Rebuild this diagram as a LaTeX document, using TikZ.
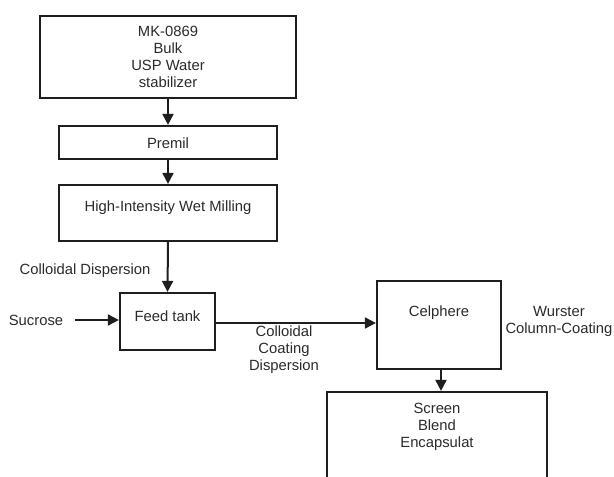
\documentclass[tikz,border=0pt]{standalone}
\usepackage{fontspec}
\setmainfont{Liberation Sans}
\usetikzlibrary{arrows.meta}
\definecolor{ink}{HTML}{1E1E1E}
\definecolor{txtc}{HTML}{2A2A2A}
\tikzset{
  box/.style={draw=ink, line width=2.2pt, rectangle, inner sep=0pt},
  txt/.style={text=txtc, font=\fontsize{14.8}{17}\selectfont, align=center, inner sep=0pt},
  arr/.style={draw=ink, line width=2pt, -{Triangle[length=11pt,width=11pt]}},
}
\begin{document}
\begin{tikzpicture}[x=1pt,y=-1pt]
\useasboundingbox (0,0) rectangle (614,477);
% boxes
\node[box, minimum width=256pt, minimum height=82pt] (mk) at (168,57) {};
\node[txt] (mkt) at (168,57) {MK-0869\\Bulk\\USP Water\\stabilizer};
\node[box, minimum width=218pt, minimum height=33pt] (premil) at (168,142.5) {};
\node[txt] (premilt) at (168,143) {Premil};
\node[box, minimum width=218pt, minimum height=56pt] (hiwm) at (168,213) {};
\node[txt] (hiwmt) at (168,208) {High-Intensity Wet Milling};
\node[box, minimum width=95pt, minimum height=57pt] (feed) at (167.5,321.5) {};
\node[txt] (feedt) at (167.5,316) {Feed tank};
\node[box, minimum width=124pt, minimum height=88pt] (cel) at (439,325) {};
\node[txt] (celt) at (439,313) {Celphere};
\node[box, minimum width=220pt, minimum height=120pt] (scr) at (437,452) {};
\node[txt] (scrt) at (437,427) {Screen\\Blend\\Encapsulat};
% labels
\node[txt] (suc) at (36,320) {Sucrose};
\node[txt] (cd) at (85,271) {Colloidal Dispersion};
\node[txt] (ccd) at (284,350) {Colloidal\\Coating\\Dispersion};
\node[txt] (wur) at (559,321) {Wurster\\Column-Coating};
% connectors
\draw[arr] (mk.south) -- (premil.north);
\draw[arr] (premil.south) -- (hiwm.north);
\draw[arr] (hiwm.south) -- (feed.north);
\draw[arr] ([xshift=12pt]suc.east) -- (suc.east -| feed.west);
\draw[arr] ([yshift=-1.5pt]feed.east) -- ([yshift=-1.5pt]feed.east -| cel.west);
\draw[arr] ([xshift=2pt]cel.south) -- ([xshift=2pt]cel.south |- scr.north);
\end{tikzpicture}
\end{document}
